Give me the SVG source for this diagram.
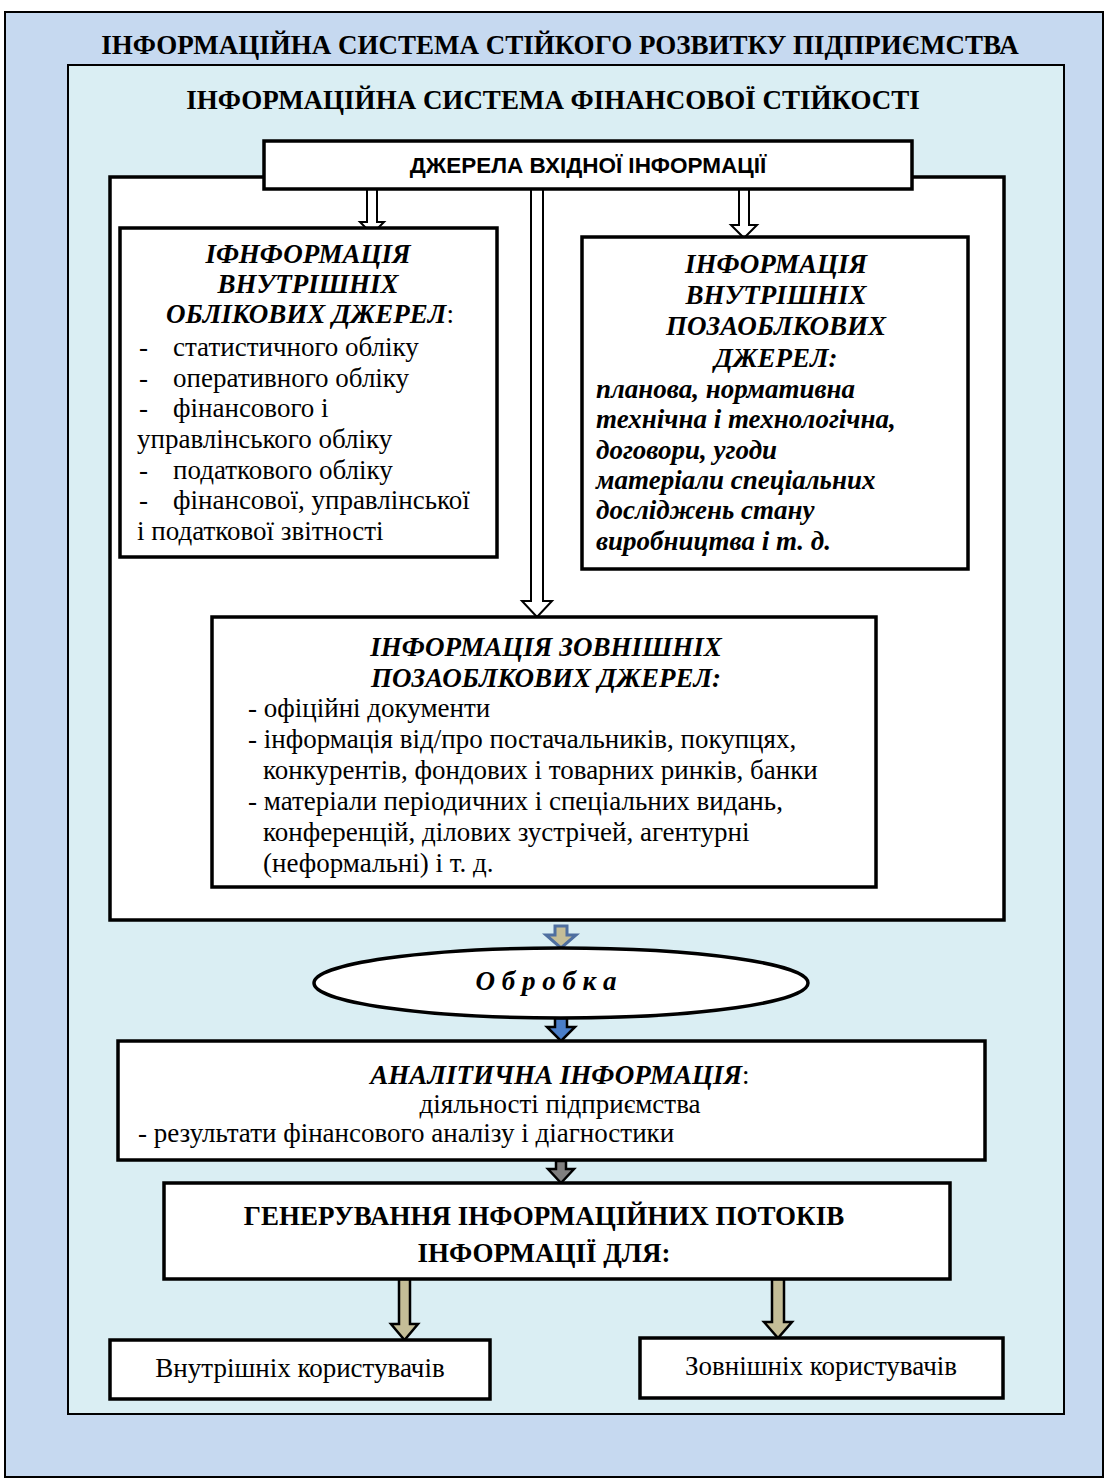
<svg xmlns="http://www.w3.org/2000/svg" width="1108" height="1481" viewBox="0 0 1108 1481">
<style>
.t{font-family:"Liberation Serif","Times New Roman",serif;fill:#000;font-size:27px}
.s{font-family:"Liberation Sans",Arial,sans-serif;fill:#000}
.b{font-weight:bold}
.i{font-style:italic}
.c{text-anchor:middle}
.box{fill:#fff;stroke:#000;stroke-width:3.5}
.arr{fill:#fff;stroke:#000;stroke-width:2}
</style>
<rect x="5" y="12" width="1098" height="1465" fill="#c6d9f0" stroke="#000" stroke-width="2"/>
<text class="t b c" x="560" y="54" font-size="26">ІНФОРМАЦІЙНА СИСТЕМА СТІЙКОГО РОЗВИТКУ ПІДПРИЄМСТВА</text>
<rect x="68" y="65" width="996" height="1349" fill="#daeef3" stroke="#000" stroke-width="2"/>
<text class="t b c" x="553" y="109" font-size="27.5">ІНФОРМАЦІЙНА СИСТЕМА ФІНАНСОВОЇ СТІЙКОСТІ</text>

<g id="sources-frame"><rect class="box" x="110" y="177" width="894" height="743"/></g>

<g id="connectors">
<path class="arr" d="M367 188 H377 V222 H384 L372 234 L360 222 H367 Z"/>
<path class="arr" d="M531 188 H543 V601 H552 L537 617 L522 601 H531 Z"/>
<path class="arr" d="M739 188 H749 V225 H757 L744 238 L731 225 H739 Z"/>
<path fill="#c4bd97" stroke="#4f6fa0" stroke-width="3" d="M555 926 H567 V935 H576 L561 948 L546 935 H555 Z"/>
<path fill="#4a7ec8" stroke="#000" stroke-width="2.5" d="M555 1018 H567 V1027 H575 L561 1041 L547 1027 H555 Z"/>
<path fill="#7f7f7f" stroke="#000" stroke-width="2.5" d="M556 1161 H566 V1169 H574 L561 1183 L548 1169 H556 Z"/>
<path fill="#c4bd97" stroke="#000" stroke-width="2.5" d="M399 1279 H410 V1324 H418 L404.5 1340 L391 1324 H399 Z"/>
<path fill="#c4bd97" stroke="#000" stroke-width="2.5" d="M772 1279 H784 V1322 H792 L778 1338 L764 1322 H772 Z"/>
</g>

<g id="sources">
<rect class="box" x="264" y="141" width="648" height="48"/>
<text class="s b c" x="588" y="173" font-size="22.5">ДЖЕРЕЛА ВХІДНОЇ ІНФОРМАЦІЇ</text>
</g>

<g id="internal-accounting">
<rect class="box" x="120" y="228" width="377" height="329"/>
<text class="t b i c" x="308" y="263">ІФНФОРМАЦІЯ</text>
<text class="t b i c" x="308" y="293">ВНУТРІШНІХ</text>
<text class="t c" x="310" y="323"><tspan class="b i">ОБЛІКОВИХ ДЖЕРЕЛ</tspan>:</text>
<text class="t" x="139" y="356">-</text><text class="t" x="173" y="356">статистичного обліку</text>
<text class="t" x="139" y="387">-</text><text class="t" x="173" y="387">оперативного обліку</text>
<text class="t" x="139" y="417">-</text><text class="t" x="173" y="417">фінансового і</text>
<text class="t" x="137" y="448">управлінського обліку</text>
<text class="t" x="139" y="479">-</text><text class="t" x="173" y="479">податкового обліку</text>
<text class="t" x="139" y="509">-</text><text class="t" x="173" y="509">фінансової, управлінської</text>
<text class="t" x="137" y="540">і податкової звітності</text>
</g>

<g id="internal-nonaccounting">
<rect class="box" x="582" y="237" width="386" height="332"/>
<text class="t b i c" x="776" y="273">ІНФОРМАЦІЯ</text>
<text class="t b i c" x="776" y="304">ВНУТРІШНІХ</text>
<text class="t b i c" x="776" y="335">ПОЗАОБЛКОВИХ</text>
<text class="t b i c" x="776" y="367">ДЖЕРЕЛ:</text>
<text class="t b i" x="596" y="398">планова, нормативна</text>
<text class="t b i" x="596" y="428">технічна і технологічна,</text>
<text class="t b i" x="596" y="459">договори, угоди</text>
<text class="t b i" x="596" y="489">матеріали спеціальних</text>
<text class="t b i" x="596" y="519">досліджень стану</text>
<text class="t b i" x="596" y="550">виробництва і т. д.</text>
</g>

<g id="external">
<rect class="box" x="212" y="617" width="664" height="270"/>
<text class="t b i c" x="546" y="656">ІНФОРМАЦІЯ ЗОВНІШНІХ</text>
<text class="t b i c" x="546" y="687">ПОЗАОБЛКОВИХ ДЖЕРЕЛ:</text>
<text class="t" x="248" y="717">- офіційні документи</text>
<text class="t" x="248" y="748">- інформація від/про постачальників, покупцях,</text>
<text class="t" x="263" y="779">конкурентів, фондових і товарних ринків, банки</text>
<text class="t" x="248" y="810">- матеріали періодичних і спеціальних видань,</text>
<text class="t" x="263" y="841">конференцій, ділових зустрічей, агентурні</text>
<text class="t" x="263" y="872">(неформальні) і т. д.</text>
</g>

<g id="processing">
<ellipse cx="561" cy="983" rx="247" ry="35" fill="#fff" stroke="#000" stroke-width="3.5"/>
<text class="t b i c" x="546" y="990" font-size="19.5">О б р о б к а</text>
</g>

<g id="analytics">
<rect class="box" x="118" y="1041" width="867" height="119"/>
<text class="t c" x="560" y="1084"><tspan class="b i">АНАЛІТИЧНА ІНФОРМАЦІЯ</tspan>:</text>
<text class="t c" x="560" y="1113">діяльності підприємства</text>
<text class="t" x="138" y="1142">- результати фінансового аналізу і діагностики</text>
</g>

<g id="generation">
<rect class="box" x="164" y="1183" width="786" height="96"/>
<text class="t b c" x="544" y="1225">ГЕНЕРУВАННЯ ІНФОРМАЦІЙНИХ ПОТОКІВ</text>
<text class="t b c" x="544" y="1262">ІНФОРМАЦІЇ ДЛЯ:</text>
</g>

<g id="internal-users">
<rect class="box" x="110" y="1340" width="380" height="59"/>
<text class="t c" x="300" y="1377">Внутрішніх користувачів</text>
</g>

<g id="external-users">
<rect class="box" x="640" y="1338" width="363" height="60"/>
<text class="t c" x="821" y="1375">Зовнішніх користувачів</text>
</g>
</svg>
